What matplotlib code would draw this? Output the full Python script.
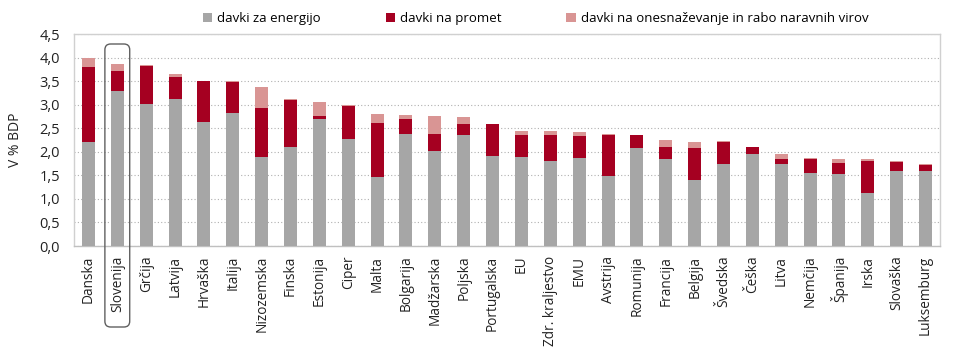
import matplotlib
matplotlib.use("Agg")
import matplotlib.pyplot as plt
from matplotlib.patches import FancyBboxPatch
from matplotlib.transforms import blended_transform_factory
from matplotlib.ticker import FuncFormatter, MultipleLocator

plt.rcParams['font.family'] = ['Open Sans', 'DejaVu Sans']

drzave = ["Danska", "Slovenija", "Grčija", "Latvija", "Hrvaška", "Italija",
          "Nizozemska", "Finska", "Estonija", "Ciper", "Malta", "Bolgarija",
          "Madžarska", "Poljska", "Portugalska", "EU", "Zdr. kraljestvo", "EMU",
          "Avstrija", "Romunija", "Francija", "Belgija", "Švedska", "Češka",
          "Litva", "Nemčija", "Španija", "Irska", "Slovaška", "Luksemburg"]

energija = [2.21, 3.28, 3.02, 3.11, 2.64, 2.82, 1.89, 2.11, 2.70, 2.28, 1.46, 2.38,
            2.01, 2.35, 1.90, 1.88, 1.80, 1.87, 1.49, 2.08, 1.85, 1.41, 1.75, 1.96,
            1.75, 1.54, 1.53, 1.12, 1.60, 1.60]
promet = [1.59, 0.44, 0.80, 0.47, 0.86, 0.66, 1.03, 0.98, 0.05, 0.70, 1.15, 0.32,
          0.36, 0.24, 0.68, 0.47, 0.55, 0.47, 0.87, 0.27, 0.26, 0.68, 0.45, 0.14,
          0.09, 0.31, 0.23, 0.69, 0.18, 0.12]
onesnazevanje = [0.20, 0.15, 0.02, 0.07, 0.01, 0.02, 0.45, 0.02, 0.31, 0.01, 0.19, 0.08,
                 0.39, 0.14, 0.01, 0.10, 0.09, 0.08, 0.01, 0.01, 0.14, 0.12, 0.02, 0.01,
                 0.11, 0.02, 0.08, 0.03, 0.02, 0.03]

barve = ["#a6a6a6", "#a50021", "#d99594"]
oznake = ["davki za energijo", "davki na promet",
          "davki na onesnaževanje in rabo naravnih virov"]

fig = plt.figure(figsize=(9.6, 3.49), dpi=100)
ax = fig.add_axes([74 / 960, 103 / 349, 866 / 960, 212 / 349])

x = range(len(drzave))
dno2 = [e + p for e, p in zip(energija, promet)]
ax.bar(x, energija, width=0.45, color=barve[0], label=oznake[0], zorder=3)
ax.bar(x, promet, width=0.45, bottom=energija, color=barve[1], label=oznake[1], zorder=3)
ax.bar(x, onesnazevanje, width=0.45, bottom=dno2, color=barve[2], label=oznake[2], zorder=3)

ax.set_xlim(-0.5, len(drzave) - 0.5)
ax.set_ylim(0, 4.5)
ax.yaxis.set_major_locator(MultipleLocator(0.5))
ax.yaxis.set_major_formatter(FuncFormatter(lambda v, _: f"{v:.1f}".replace(".", ",")))
ax.set_xticks(list(x))
ax.set_xticklabels(drzave, rotation=90, fontsize=9.8, color="#222222")
ax.tick_params(axis="y", labelsize=10.5, length=0, pad=10, colors="#222222")
ax.tick_params(axis="x", length=0, pad=7)
ax.grid(axis="y", linestyle=(0, (1, 2)), color="#b0b0b0", linewidth=0.8, zorder=0)
for s in ax.spines.values():
    s.set_color("#d0d0d0")
    s.set_linewidth(1)
ax.spines["bottom"].set_color("#c0c0c0")
ax.set_ylabel("V % BDP", fontsize=10, color="#222222", labelpad=12)

# okvir okrog Slovenije
tr = blended_transform_factory(ax.transData, fig.transFigure)
okvir = FancyBboxPatch((1 - 0.43, 22 / 349), 0.86, 283 / 349,
                       boxstyle="round,pad=0,rounding_size=0.2",
                       transform=tr, fill=False, edgecolor="#606060",
                       linewidth=1, clip_on=False, zorder=5,
                       mutation_aspect=0.083)
fig.add_artist(okvir)

fig.legend(loc="upper left", bbox_to_anchor=(191 / 960, 1.0), ncol=3, frameon=False,
           fontsize=9.5, handlelength=0.7, handleheight=0.7, handletextpad=0.4,
           columnspacing=4.9)

fig.savefig("out.png", dpi=100)
